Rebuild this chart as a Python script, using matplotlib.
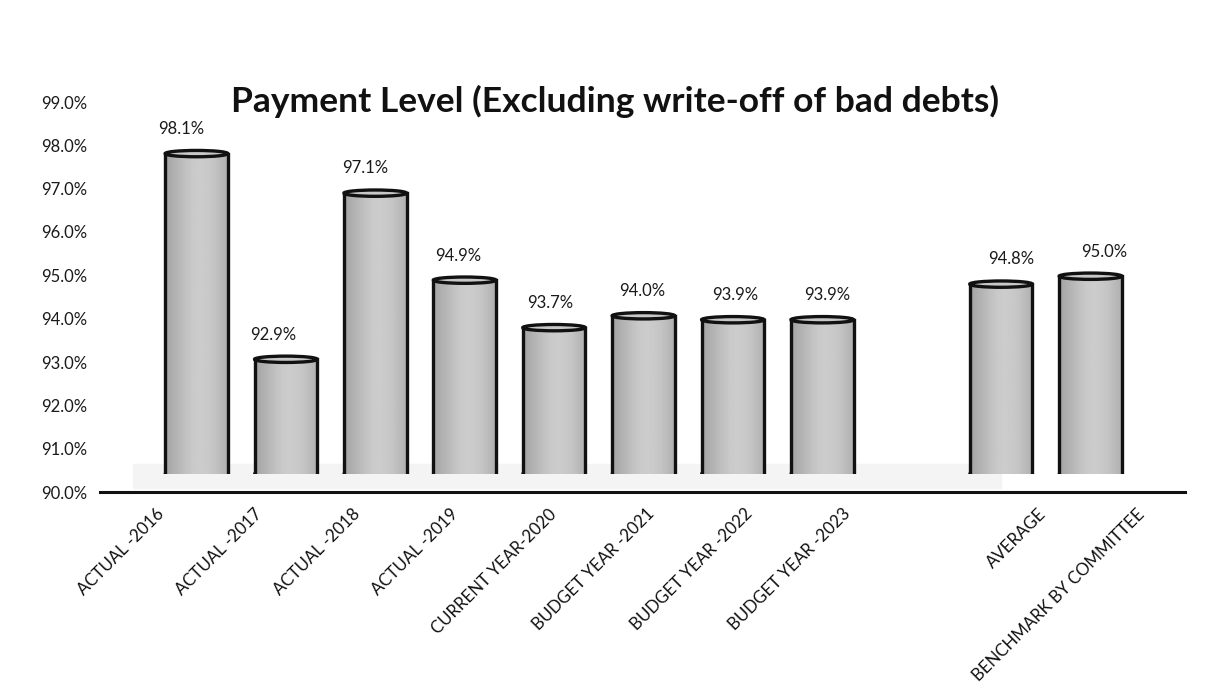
import numpy as np
import matplotlib
matplotlib.use("Agg")
import matplotlib.pyplot as plt
from matplotlib.patches import Rectangle, Ellipse

categories = ["ACTUAL -2016", "ACTUAL -2017", "ACTUAL -2018", "ACTUAL -2019",
              "CURRENT YEAR-2020", "BUDGET YEAR -2021", "BUDGET YEAR -2022",
              "BUDGET YEAR -2023", "AVERAGE", "BENCHMARK BY COMMITTEE"]
values = [98.1, 92.9, 97.1, 94.9, 93.7, 94.0, 93.9, 93.9, 94.8, 95.0]
# empty slot between the yearly bars and the summary bars
slots = [0, 1, 2, 3, 4, 5, 6, 7, 9, 10]
yticks = np.arange(90, 99.5, 1.0)

plt.rcParams['font.family'] = ['Lato', 'DejaVu Sans']

W, H = 1216, 694
fig = plt.figure(figsize=(W / 100, H / 100), dpi=100)
fig.patch.set_facecolor("white")

left, width = 100 / W, 1085 / W

# front plane: value scale, floor line, category labels
ax = fig.add_axes([left, 202 / H, width, 390 / H])
ax.set_ylim(90, 99)
ax.set_xlim(-0.571, 10.5)
ax.set_yticks(yticks)
ax.set_yticklabels([f"{t:.1f}%" for t in yticks], fontsize=12, color="#1a1a1a")
ax.set_xticks(slots)
ax.set_xticklabels(categories, rotation=45, ha="right", va="top",
                   rotation_mode="anchor", fontsize=12.2, color="#111111")
ax.tick_params(axis="y", length=0, pad=9)
ax.tick_params(axis="x", length=0, pad=10)
for s in ["top", "right", "left"]:
    ax.spines[s].set_visible(False)
ax.spines["bottom"].set_linewidth(2.2)
ax.spines["bottom"].set_color("#111111")
ax.axhspan(90.1, 90.65, xmin=0.03, xmax=0.83, color="#f4f4f4", zorder=0)

# back plane: cylinders sit deeper, with their own scale
bx = fig.add_axes([left, 220 / H, width, 356 / H])
bx.axis("off")
bx.patch.set_alpha(0)

# value labels sit between the two planes
lx = fig.add_axes([left, 220 / H, width, 356 / H])
lx.set_ylim(90, 99)
lx.set_xlim(-0.878, 10.878)
lx.axis("off")
lx.patch.set_alpha(0)

# horizontal shading across a cylinder
shade = np.array([0.64, 0.68, 0.72, 0.76, 0.79, 0.80, 0.79, 0.77, 0.73, 0.69])
shade = np.interp(np.linspace(0, 1, 64), np.linspace(0, 1, len(shade)), shade)
grad = np.tile(shade, (2, 1))

w = 0.7
cap = 0.16
for x, v in zip(slots, values):
    bx.add_patch(Ellipse((x, 90), w, cap * 1.6, facecolor="#bababa",
                         edgecolor="#111111", lw=2.2, zorder=2))
    body = Rectangle((x - w / 2, 90), w, v - 90, facecolor="none",
                     edgecolor="none", zorder=3)
    bx.add_patch(body)
    im = bx.imshow(grad, cmap="gray", vmin=0, vmax=1, aspect="auto",
                   extent=(x - w / 2, x + w / 2, 90, v), zorder=3,
                   interpolation="bilinear")
    im.set_clip_path(body)
    bx.plot([x - w / 2, x - w / 2], [90, v], color="#111111", lw=2.4, zorder=4)
    bx.plot([x + w / 2, x + w / 2], [90, v], color="#111111", lw=2.4, zorder=4)
    bx.add_patch(Ellipse((x, v), w, cap, facecolor="#c8c8c8",
                         edgecolor="#111111", lw=2.4, zorder=5))
    lx.annotate(f"{v:.1f}%", (x, v), xytext=(0, 12),
                textcoords="offset points", ha="center", va="bottom",
                fontsize=12, color="#1a1a1a")
bx.set_xlim(-1.079, 11.057)
bx.set_ylim(90, 99)

fig.text(615 / W, 1 - 101 / H, "Payment Level (Excluding write-off of bad debts)",
         ha="center", va="center", fontsize=25.5, fontweight="bold", color="#111111")

fig.savefig("out.png", dpi=100)
